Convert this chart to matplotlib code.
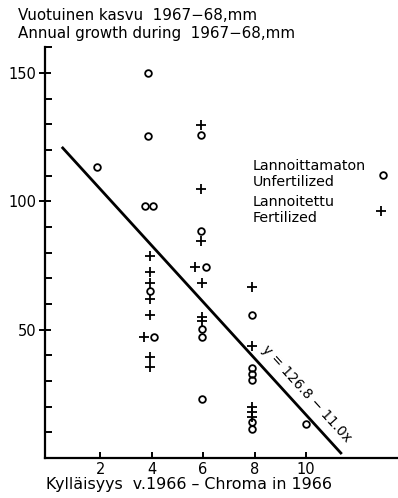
import math
import matplotlib
matplotlib.use("Agg")
import matplotlib.pyplot as plt
from matplotlib.lines import Line2D

plt.rcParams["font.family"] = ["DejaVu Sans"]

# Lannoittamaton / Unfertilized (o)
unfert_x = [1.88, 3.85, 3.85, 3.75, 4.05, 3.95, 4.1,
            5.9, 5.9, 6.1, 5.95, 5.95, 5.95,
            7.9, 7.9, 7.9, 7.9, 7.9, 7.9, 10.0]
unfert_y = [113.2, 150, 125.5, 98, 98, 65, 47,
            125.7, 88.4, 74.5, 50.3, 47.3, 22.8,
            55.5, 35, 32.8, 30.4, 13.9, 11.2, 13.1]

# Lannoitettu / Fertilized (+)
fert_x = [3.95, 3.95, 3.95, 3.95, 3.95, 3.7, 3.95, 3.95,
          5.9, 5.9, 5.9, 5.7, 5.95, 5.95, 5.95,
          7.9, 7.9, 7.9, 7.9, 7.9]
fert_y = [78.5, 72.5, 68, 61.8, 55.5, 47, 39.5, 35.3,
          129.5, 104.7, 84.6, 74.5, 68, 54.8, 53.2,
          66.7, 43.6, 20, 18, 16]

# regressio y = 126.8 - 11.0x
intercept = 126.8
slope = -11.0
line_x = [0.55, 11.35]

xticks = [2, 4, 6, 8, 10]
yticks_major = [50, 100, 150]

fig = plt.figure(figsize=(3.98, 4.98), dpi=100)
ax = fig.add_axes([0.113, 0.0803, 0.887, 0.825])
ax.set_xlim(-0.14, 13.57)
ax.set_ylim(0, 160)

ax.plot(line_x, [intercept + slope * v for v in line_x], color="black", lw=2.0)
ax.plot(unfert_x, unfert_y, "o", ms=4.8, mfc="none", mec="black", mew=1.3,
        clip_on=False)
ax.plot(fert_x, fert_y, "+", ms=7, mec="black", mew=1.3, clip_on=False)

ax.text(10.0, 25, "y = 126.8 − 11.0x", rotation=math.degrees(math.atan(slope)),
        transform_rotates_text=True, rotation_mode="anchor",
        ha="center", va="center", fontsize=9.8)

for s in ["top", "right"]:
    ax.spines[s].set_visible(False)
ax.spines["left"].set_linewidth(1.6)
ax.spines["bottom"].set_linewidth(1.6)

ax.set_xticks(xticks)
ax.set_xticklabels([str(v) for v in xticks], fontsize=10.5)
ax.tick_params(axis="x", direction="in", length=4, width=1.4, pad=3)
ax.set_yticks(yticks_major)
ax.set_yticklabels([str(v) for v in yticks_major], fontsize=10.5)
ax.set_yticks(list(range(10, 161, 10)), minor=True)
ax.tick_params(axis="y", which="major", direction="inout", length=8, width=1.4, pad=2)
ax.tick_params(axis="y", which="minor", direction="in", length=5, width=1.4)

fig.text(18 / 398, 1 - 8 / 498, "Vuotuinen kasvu  1967−68,mm\nAnnual growth during  1967−68,mm",
         ha="left", va="top", fontsize=10.9, linespacing=1.22)
fig.text(46 / 398, 1 - 484 / 498, "Kylläisyys  v.1966 – Chroma in 1966",
         ha="left", va="center", fontsize=11.4)

h1 = Line2D([], [], ls="none", marker="o", ms=4.8, mfc="none", mec="black", mew=1.3)
h2 = Line2D([], [], ls="none", marker="+", ms=7, mec="black", mew=1.3)
leg1 = ax.legend([h1], ["Lannoittamaton\nUnfertilized"], loc="upper left",
                 bbox_to_anchor=(253 / 398, 1 - 159 / 498), bbox_transform=fig.transFigure,
                 frameon=False, markerfirst=False, borderpad=0, borderaxespad=0,
                 handlelength=1.0, handletextpad=0.65, fontsize=10.3)
ax.add_artist(leg1)
ax.legend([h2], ["Lannoitettu\nFertilized"], loc="upper left",
          bbox_to_anchor=(253 / 398, 1 - 195 / 498), bbox_transform=fig.transFigure,
          frameon=False, markerfirst=False, borderpad=0, borderaxespad=0,
          handlelength=1.0, handletextpad=2.75, fontsize=10.3)

fig.savefig("out.png", dpi=100)
